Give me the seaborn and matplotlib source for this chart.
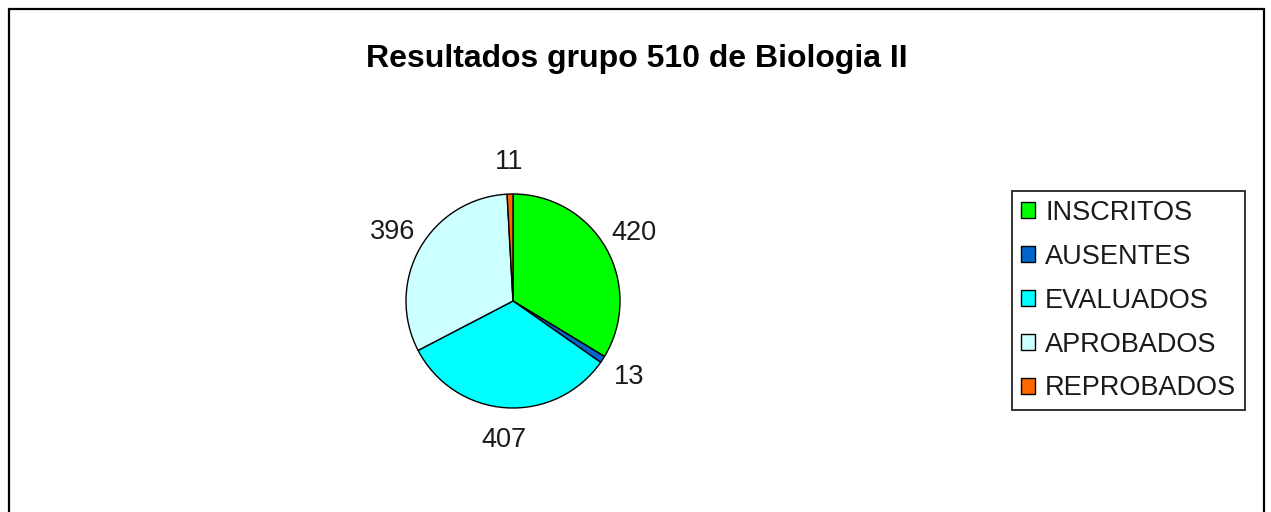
import matplotlib
matplotlib.use("Agg")
import matplotlib.pyplot as plt
from matplotlib.patches import Rectangle
import seaborn as sns

# Course results for group 510, Biologia II
categories = ["INSCRITOS", "AUSENTES", "EVALUADOS", "APROBADOS", "REPROBADOS"]
counts = [420, 13, 407, 396, 11]
slice_colors = ["#00FF00", "#0066CC", "#00FFFF", "#CCFFFF", "#FF6600"]
title = "Resultados grupo 510 de Biologia II"

sns.set_theme(style="white")
plt.rcParams["font.family"] = ["Liberation Sans", "DejaVu Sans"]

W, H = 1271, 512
fig = plt.figure(figsize=(W / 100, H / 100), dpi=100)
fig.patch.set_facecolor("white")

def px(x, y):
    """Pixel position measured from the top-left corner -> figure fraction."""
    return x / W, 1 - y / H

# Outer chart frame (open at the bottom edge)
fig.add_artist(Rectangle(px(9, 530), (1264 - 9) / W, (530 - 9) / H,
                         transform=fig.transFigure, fill=False,
                         edgecolor="black", linewidth=1.6, clip_on=False))

# Pie axes: centre (513, 301), radius 107 px
cx, cy, r = 513, 301, 107
ax = fig.add_axes([(cx - r) / W, (H - cy - r) / H, 2 * r / W, 2 * r / H])
wedges, texts = ax.pie(
    counts,
    colors=slice_colors,
    labels=[str(v) for v in counts],
    startangle=90,
    counterclock=False,
    labeldistance=1.3,
    wedgeprops=dict(edgecolor="black", linewidth=1.0),
    textprops=dict(fontsize=19.5, color="#1a1a1a"),
)
for t in texts:
    t.set_horizontalalignment("center")
    t.set_verticalalignment("center")
ax.set_xlim(-1, 1)
ax.set_ylim(-1, 1)
ax.set_aspect("equal")
ax.axis("off")

# Title
tx, ty = px(637, 67)
fig.text(tx, ty, title, fontsize=23, fontweight="bold",
         ha="center", va="baseline", color="black")

# Legend box on the right
leg = fig.legend(
    wedges, categories,
    loc="upper left",
    bbox_to_anchor=px(1012, 191),
    bbox_transform=fig.transFigure,
    borderaxespad=0,
    fontsize=19.5,
    frameon=True,
    fancybox=False,
    handlelength=0.52,
    handleheight=0.52,
    handletextpad=0.37,
    labelspacing=0.66,
    borderpad=0.33,
)
leg.get_frame().set_edgecolor("black")
leg.get_frame().set_linewidth(1.4)
for t in leg.get_texts():
    t.set_color("#1a1a1a")

fig.savefig("out.png", dpi=100, facecolor="white")
